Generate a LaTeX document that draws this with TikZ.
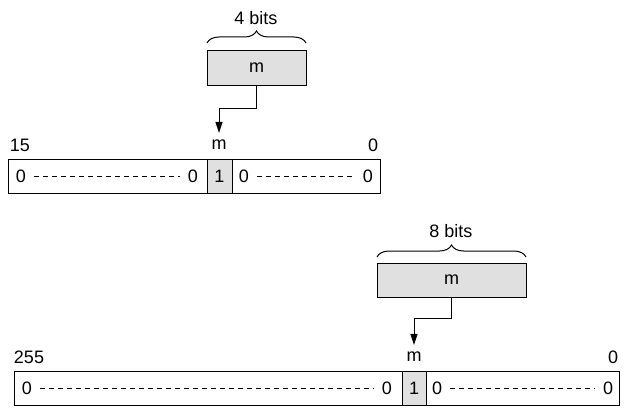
\documentclass[tikz,border=0pt]{standalone}
\usepackage{fontspec}
\setmainfont{Liberation Sans}
\usetikzlibrary{arrows.meta,decorations.pathreplacing}
\definecolor{cellgray}{RGB}{224,224,224}
\begin{document}
\begin{tikzpicture}[x=1pt,y=-1pt,
  txt/.style={font=\fontsize{18pt}{20pt}\selectfont},
  box/.style={draw,line width=1pt,minimum height=34pt,inner sep=0pt,outer sep=0pt},
  field/.style={box,fill=cellgray,txt},
  lab/.style={inner sep=0pt,txt},
  dots/.style={dash pattern=on 5pt off 4pt,line width=0.8pt,shorten <=8pt,shorten >=8pt},
  arr/.style={line width=1pt,-{Triangle[length=11pt,width=7pt]},shorten >=7pt},
  brc/.style={decorate,decoration={brace,amplitude=12pt},line width=1pt}]
\useasboundingbox (0,0) rectangle (626,412);

% ---------- upper part ----------
\node[field,minimum width=99pt] (mbox1) at (256.5,68) {m};
\draw[brc] ([yshift=8pt]mbox1.north west) -- ([yshift=8pt]mbox1.north east);
\node[lab] (bits1) at (256,18) {4 bits};

\node[box,minimum width=199pt] (r1l) at (107.5,176) {};
\node[field,minimum width=25pt] (c1) at (219.5,176) {};
\node[box,minimum width=148pt] (r1r) at (306,176) {};

\node[lab] (t15) at (20,145) {15};
\node[lab] (tm1) at (219,145) {m};
\node[lab] (t01) at (373,145) {0};

\node[lab] (a1) at (21,176) {0};
\node[lab] (a2) at (193,176) {0};
\node[lab] (a3) at (219.5,176) {1};
\node[lab] (a4) at (244,176) {0};
\node[lab] (a5) at (368,176) {0};
\draw[dots] (a1.east) -- (a2.west);
\draw[dots] (a4.east) -- (a5.west);

\draw[arr] (mbox1.south) -- ++(0,23) -| (tm1.north);

% ---------- lower part ----------
\node[field,minimum width=149pt] (mbox2) at (451.5,280) {m};
\draw[brc] ([yshift=6pt]mbox2.north west) -- ([yshift=6pt]mbox2.north east);
\node[lab] (bits2) at (451,231) {8 bits};

\node[box,minimum width=388pt] (r2l) at (208,388) {};
\node[field,minimum width=24pt] (c2) at (414,388) {};
\node[box,minimum width=193pt] (r2r) at (522.5,388) {};

\node[lab] (t255) at (29,357) {255};
\node[lab] (tm2) at (414,357) {m};
\node[lab] (t02) at (613,357) {0};

\node[lab] (b1) at (27,388) {0};
\node[lab] (b2) at (387,388) {0};
\node[lab] (b3) at (414,388) {1};
\node[lab] (b4) at (437,388) {0};
\node[lab] (b5) at (608,388) {0};
\draw[dots] (b1.east) -- (b2.west);
\draw[dots] (b4.east) -- (b5.west);

\draw[arr] (mbox2.south) -- ++(0,21) -| (tm2.north);
\end{tikzpicture}
\end{document}
